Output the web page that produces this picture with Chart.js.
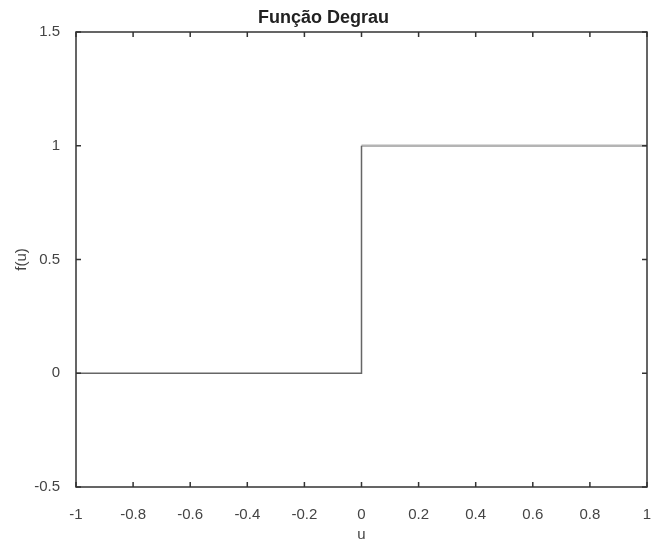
<!DOCTYPE html>
<html lang="pt">
<head>
  <meta charset="UTF-8">
  <title>Função Degrau</title>
  <script src="https://cdn.jsdelivr.net/npm/chart.js"></script>
  <style>
    body { margin: 0; background: #fff; }
    canvas { display: block; }
  </style>
</head>
<body>
  <canvas id="grafico" width="651" height="541"></canvas>
  <script>
    // degrau: parte de baixo (u <= 0) e parte de cima (u >= 0)
    const uBaixo = [-1, 0, 0];
    const fBaixo = [0, 0, 1];
    const uCima = [0, 1];
    const fCima = [1, 1];

    const xTicks = [-1, -0.8, -0.6, -0.4, -0.2, 0, 0.2, 0.4, 0.6, 0.8, 1];
    const yTicks = [-0.5, 0, 0.5, 1, 1.5];

    const corTexto = '#444';
    const fonte = 'Liberation Sans, Arial, sans-serif';

    // caixa estilo matlab com ticks para dentro nos 4 lados
    const caixaPlugin = {
      id: 'caixa',
      afterDatasetsDraw(chart) {
        const { ctx, chartArea: a, scales } = chart;
        const len = 5;
        ctx.save();
        ctx.strokeStyle = '#333';
        ctx.lineWidth = 1.5;
        ctx.strokeRect(a.left, a.top, a.right - a.left, a.bottom - a.top);
        ctx.beginPath();
        xTicks.forEach(v => {
          const x = scales.x.getPixelForValue(v);
          ctx.moveTo(x, a.bottom); ctx.lineTo(x, a.bottom - len);
          ctx.moveTo(x, a.top); ctx.lineTo(x, a.top + len);
        });
        yTicks.forEach(v => {
          const y = scales.y.getPixelForValue(v);
          ctx.moveTo(a.left, y); ctx.lineTo(a.left + len, y);
          ctx.moveTo(a.right, y); ctx.lineTo(a.right - len, y);
        });
        ctx.stroke();
        ctx.restore();
      }
    };

    new Chart(document.getElementById('grafico'), {
      type: 'line',
      data: {
        datasets: [
          {
            data: uBaixo.map((u, i) => ({ x: u, y: fBaixo[i] })),
            borderColor: '#666',
            borderWidth: 1.5,
            pointRadius: 0,
            tension: 0
          },
          {
            data: uCima.map((u, i) => ({ x: u, y: fCima[i] })),
            borderColor: '#b4b4b4',
            borderWidth: 2.5,
            pointRadius: 0,
            tension: 0
          }
        ]
      },
      options: {
        responsive: false,
        animation: false,
        layout: { padding: { left: 0, right: 4, top: 0, bottom: 0 } },
        plugins: {
          legend: { display: false },
          tooltip: { enabled: false },
          title: {
            display: true,
            text: 'Função Degrau',
            color: '#222',
            font: { family: fonte, size: 18, weight: 'bold' },
            padding: { top: 7, bottom: 3.4 }
          }
        },
        scales: {
          x: {
            type: 'linear',
            min: -1,
            max: 1,
            afterBuildTicks: s => { s.ticks = xTicks.map(v => ({ value: v })); },
            afterFit: s => { s.height = 54; s.paddingLeft = 0; s.paddingRight = 0; },
            grid: { display: false },
            border: { display: false },
            ticks: {
              autoSkip: false,
              maxRotation: 0,
              padding: 11,
              color: corTexto,
              font: { family: fonte, size: 15 },
              callback: v => String(v)
            },
            title: {
              display: true,
              text: 'u',
              color: corTexto,
              font: { family: fonte, size: 15 },
              padding: { top: 0, bottom: -3 }
            }
          },
          y: {
            type: 'linear',
            min: -0.5,
            max: 1.5,
            afterBuildTicks: s => { s.ticks = yTicks.map(v => ({ value: v })); },
            afterFit: s => { s.width = 76; s.paddingTop = 0; s.paddingBottom = 0; },
            grid: { display: false },
            border: { display: false },
            ticks: {
              padding: 8,
              color: corTexto,
              font: { family: fonte, size: 15 },
              callback: v => String(v)
            },
            title: {
              display: true,
              text: 'f(u)',
              color: corTexto,
              font: { family: fonte, size: 15 },
              padding: { top: 13, bottom: 0 }
            }
          }
        }
      },
      plugins: [caixaPlugin]
    });
  </script>
</body>
</html>
